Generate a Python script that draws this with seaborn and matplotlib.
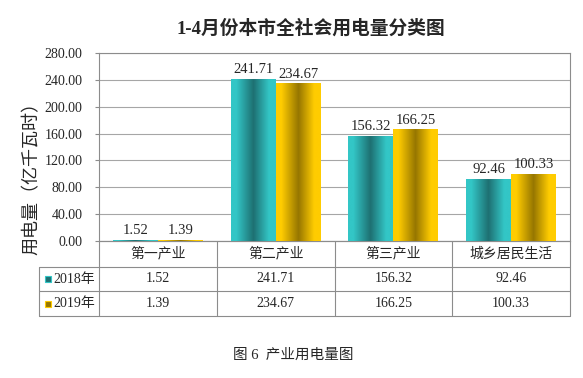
import numpy as np
import pandas as pd
import seaborn as sns

import matplotlib
matplotlib.use('Agg')
import matplotlib.pyplot as plt
from matplotlib.colors import LinearSegmentedColormap
from matplotlib.patches import Rectangle
import matplotlib.transforms as mtransforms

categories = ['第一产业', '第二产业', '第三产业', '城乡居民生活']
years = ['2018年', '2019年']
values_2018 = [1.52, 241.71, 156.32, 92.46]
values_2019 = [1.39, 234.67, 166.25, 100.33]
yticks = [0, 40, 80, 120, 160, 200, 240, 280]

# bright / dark tones for the shaded bars
tones = {'2018年': ('#33C6C6', '#1E7072'), '2019年': ('#FFCC00', '#967600')}

df = pd.DataFrame({
    'category': categories * 2,
    'year': [years[0]] * 4 + [years[1]] * 4,
    'value': values_2018 + values_2019,
})

sns.set_style('white')
plt.rcParams['font.family'] = ['Liberation Serif', 'Noto Sans CJK SC']
plt.rcParams['axes.unicode_minus'] = False

W, H = 583, 378
fig = plt.figure(figsize=(W / 100, H / 100), dpi=100)
ax = fig.add_axes([99 / W, (H - 241) / H, 471 / W, 188 / H])

sns.barplot(data=df, x='category', y='value', hue='year', order=categories,
            hue_order=years, palette=[tones[y][0] for y in years],
            width=0.764, legend=False, ax=ax, zorder=3)

ax.set_xlim(-0.5, 3.5)
ax.set_ylim(0, 280)
ax.set_yticks(yticks)
ax.set_yticklabels([f'{t:.2f}' for t in yticks], fontsize=10)
ax.set_xticks([])
ax.set_xlabel('')
ax.set_ylabel('')
ax.yaxis.grid(True, color='#A6A6A6', lw=0.8, zorder=0)
ax.set_axisbelow(True)
ax.tick_params(axis='y', left=True, length=3, width=0.8, color='#8C8C8C', pad=9)
for s in ax.spines.values():
    s.set_color('#8C8C8C')
    s.set_linewidth(0.8)

# gradient fill for each bar
grad = np.linspace(0, 1, 256).reshape(1, -1)
for cont, yr in zip(ax.containers, years):
    bright, dark = tones[yr]
    cmap = LinearSegmentedColormap.from_list(
        yr, [(0, bright), (0.12, bright), (0.5, dark), (0.85, bright), (1, bright)])
    for bar in cont:
        x0, y0 = bar.get_x(), bar.get_y()
        w, h = bar.get_width(), bar.get_height()
        bar.set_facecolor('none')
        bar.set_edgecolor('none')
        im = ax.imshow(grad, extent=[x0, x0 + w, y0, y0 + h], aspect='auto',
                       cmap=cmap, zorder=3)
        im.set_clip_path(bar)
    ax.bar_label(cont, labels=[f'{v:.2f}' for v in cont.datavalues],
                 padding=2, fontsize=10.5)
ax.set_xlim(-0.5, 3.5)
ax.set_ylim(0, 280)

# data table under the axes
tr = mtransforms.blended_transform_factory(ax.transData, ax.transAxes)
px = 188.0
row_y = [0, -26 / px, -50 / px, -75 / px]
lab_left = -0.5 - 60 / 117.75
lc = '#8C8C8C'
kw = dict(transform=tr, clip_on=False, color=lc, lw=0.8)
ax.plot([-0.5, 3.5], [row_y[0]] * 2, **kw)
for yy in row_y[1:]:
    ax.plot([lab_left, 3.5], [yy] * 2, **kw)
ax.plot([lab_left] * 2, [row_y[1], row_y[3]], **kw)
for xx in [-0.5, 0.5, 1.5, 2.5, 3.5]:
    ax.plot([xx] * 2, [row_y[0], row_y[3]], **kw)

for i, cat in enumerate(categories):
    ax.text(i, (row_y[0] + row_y[1]) / 2, cat, transform=tr, ha='center',
            va='center', fontsize=10)
for r, (yr, vals) in enumerate(zip(years, [values_2018, values_2019])):
    yc = (row_y[r + 1] + row_y[r + 2]) / 2
    for i, v in enumerate(vals):
        ax.text(i, yc, f'{v:.2f}', transform=tr, ha='center', va='center',
                fontsize=10)
    ax.add_patch(Rectangle((-0.5 - 54 / 117.75, yc - 3 / px), 6 / 117.75, 6 / px,
                           transform=tr, clip_on=False,
                           facecolor=tones[yr][1], edgecolor=tones[yr][0], lw=0.8))
    ax.text(-0.5 - 46 / 117.75, yc, yr, transform=tr, ha='left', va='center',
            fontsize=10)

fig.text(311 / W, 1 - 28 / H, '1-4月份本市全社会用电量分类图', ha='center',
         va='center', fontsize=13.5, fontweight='bold')
fig.text(32 / W, 1 - 174 / H, '用电量（亿千瓦时）', ha='center', va='center',
         rotation=90, fontsize=13)
fig.text(293 / W, 1 - 355 / H, '图 6  产业用电量图', ha='center', va='center',
         fontsize=10.5)

fig.savefig('out.png', dpi=100)
plt.close(fig)
